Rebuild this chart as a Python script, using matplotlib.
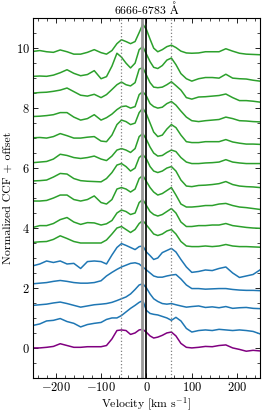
import matplotlib
matplotlib.use("Agg")
import matplotlib.pyplot as plt
from matplotlib.ticker import AutoMinorLocator, MultipleLocator

plt.rcParams['font.family'] = ['cmr10', 'DejaVu Serif']
plt.rcParams['mathtext.fontset'] = 'cm'
plt.rcParams['axes.formatter.use_mathtext'] = True
plt.rcParams['font.size'] = 8.5

# velocity grid (km/s)
vel = [-250, -235, -220, -205, -190, -175, -160, -145, -130, -115, -100, -88, -76, -65,
       -55, -45, -35, -25, -16, -8, 0, 8, 16, 25, 35, 45, 55, 65, 76, 88, 100, 115,
       130, 145, 160, 175, 190, 205, 220, 235, 250]

# CCF values (before offset), bottom to top
ccf_00 = [0.0, 0.0, 0.02, 0.05, 0.14, 0.08, 0.02, 0.02, 0.04, 0.04, 0.04, 0.08, 0.3, 0.58,
          0.6, 0.58, 0.45, 0.5, 0.6, 0.62, 0.52, 0.4, 0.33, 0.36, 0.42, 0.5, 0.53, 0.4,
          0.15, 0.02, 0.0, 0.02, 0.05, 0.04, 0.08, 0.1, 0.0, -0.05, -0.11, -0.08, -0.1]
ccf_01 = [0.05, 0.1, 0.2, 0.22, 0.28, 0.18, 0.12, 0.0, 0.08, 0.12, 0.15, 0.25, 0.3, 0.3,
          0.38, 0.5, 0.62, 0.72, 0.82, 0.88, 0.55, 0.45, 0.42, 0.4, 0.35, 0.3, 0.22, 0.32,
          0.2, -0.05, -0.17, -0.12, -0.1, -0.12, -0.08, -0.1, -0.12, -0.1, -0.12, -0.15, -0.23]
ccf_02 = [0.02, 0.04, 0.06, 0.1, 0.13, 0.08, 0.02, -0.04, 0.0, 0.04, 0.06, 0.08, 0.12, 0.18,
          0.24, 0.3, 0.4, 0.55, 0.7, 0.74, 0.6, 0.4, 0.24, 0.15, 0.08, 0.06, 0.08, 0.04,
          0.0, -0.04, -0.02, 0.0, -0.05, -0.03, -0.06, -0.02, -0.08, -0.06, -0.05, -0.08, -0.09]
ccf_03 = [0.04, 0.06, 0.08, 0.12, 0.15, 0.12, 0.08, 0.06, 0.06, 0.08, 0.14, 0.3, 0.42, 0.52,
          0.6, 0.66, 0.72, 0.74, 0.7, 0.6, 0.5, 0.4, 0.3, 0.26, 0.26, 0.3, 0.33, 0.35,
          0.2, 0.0, -0.12, -0.12, -0.14, -0.13, -0.12, -0.12, -0.15, -0.17, -0.18, -0.18, -0.19]
ccf_04 = [-0.06, 0.0, 0.1, 0.05, 0.1, 0.0, 0.02, -0.15, 0.08, 0.1, 0.08, 0.0, 0.3, 0.55,
          0.68, 0.62, 0.55, 0.48, 0.58, 0.6, 0.4, 0.28, 0.15, 0.2, 0.38, 0.45, 0.52, 0.4,
          0.15, -0.1, -0.28, -0.25, -0.2, -0.22, -0.15, -0.1, -0.3, -0.45, -0.4, -0.35, -0.2]
ccf_05 = [0.02, 0.04, 0.05, 0.12, 0.24, 0.15, 0.05, 0.0, 0.0, 0.0, 0.0, 0.1, 0.3, 0.5,
          0.55, 0.45, 0.35, 0.45, 0.65, 0.75, 0.6, 0.45, 0.3, 0.25, 0.3, 0.4, 0.45, 0.3,
          0.05, -0.1, -0.12, -0.12, -0.1, -0.12, -0.1, -0.05, -0.1, -0.12, -0.12, -0.13, -0.14]
ccf_06 = [-0.18, -0.12, -0.12, -0.05, 0.08, 0.15, 0.0, -0.08, -0.02, -0.03, -0.1, -0.06, 0.05, 0.3,
          0.4, 0.35, 0.25, 0.3, 0.65, 0.75, 0.55, 0.35, 0.25, 0.2, 0.25, 0.35, 0.45, 0.3,
          0.0, -0.15, -0.15, -0.12, -0.12, -0.1, -0.1, -0.05, -0.12, -0.15, -0.18, -0.2, -0.21]
ccf_07 = [0.0, 0.0, 0.02, 0.1, 0.2, 0.2, 0.05, 0.0, 0.05, 0.17, -0.05, -0.1, 0.05, 0.4,
          0.45, 0.4, 0.3, 0.4, 0.75, 0.85, 0.65, 0.45, 0.3, 0.2, 0.25, 0.35, 0.45, 0.2,
          -0.1, -0.2, -0.2, -0.18, -0.15, -0.15, -0.1, -0.08, -0.15, -0.2, -0.22, -0.25, -0.28]
ccf_08 = [-0.03, -0.02, 0.0, 0.1, 0.22, 0.2, 0.05, -0.02, -0.04, -0.05, -0.06, 0.05, 0.25, 0.5,
          0.55, 0.45, 0.3, 0.4, 0.75, 0.85, 0.7, 0.45, 0.3, 0.25, 0.3, 0.4, 0.45, 0.3,
          0.0, -0.2, -0.22, -0.18, -0.17, -0.15, -0.12, -0.05, -0.15, -0.2, -0.22, -0.23, -0.25]
ccf_09 = [-0.12, -0.1, -0.08, 0.0, 0.16, 0.12, 0.05, 0.02, 0.05, 0.1, 0.0, -0.05, 0.1, 0.3,
          0.35, 0.3, 0.22, 0.35, 0.75, 0.85, 0.65, 0.4, 0.2, 0.1, 0.12, 0.22, 0.3, 0.25,
          0.05, -0.1, -0.15, -0.15, -0.13, -0.12, -0.1, -0.02, -0.1, -0.13, -0.15, -0.15, -0.15]
ccf_10 = [0.01, 0.02, 0.0, 0.05, 0.15, 0.08, 0.0, 0.0, 0.03, 0.05, -0.1, -0.12, 0.1, 0.45,
          0.6, 0.55, 0.45, 0.5, 0.85, 1.0, 0.8, 0.5, 0.2, 0.05, 0.1, 0.3, 0.45, 0.35,
          0.1, -0.12, -0.15, -0.15, -0.12, -0.12, -0.12, -0.05, -0.13, -0.17, -0.2, -0.2, -0.21]
ccf_11 = [0.02, 0.03, 0.05, 0.08, 0.15, 0.15, 0.0, -0.1, -0.05, 0.08, -0.1, -0.02, 0.1, 0.25,
          0.35, 0.37, 0.3, 0.35, 0.75, 0.85, 0.7, 0.45, 0.35, 0.3, 0.33, 0.45, 0.52, 0.4,
          0.2, 0.0, -0.12, -0.15, -0.12, -0.1, -0.08, 0.0, -0.05, -0.12, -0.13, -0.15, -0.16]
ccf_12 = [0.1, 0.12, 0.13, 0.16, 0.2, 0.27, 0.15, 0.03, 0.0, 0.06, -0.05, 0.05, 0.22, 0.38,
          0.47, 0.38, 0.34, 0.45, 0.9, 0.95, 0.7, 0.45, 0.3, 0.28, 0.3, 0.38, 0.48, 0.35,
          0.2, -0.05, -0.1, -0.03, -0.02, 0.0, 0.02, 0.07, -0.05, -0.15, -0.15, -0.17, -0.2]
ccf_13 = [-0.04, -0.03, -0.04, 0.0, 0.08, 0.18, 0.06, -0.02, 0.02, 0.15, -0.12, -0.05, 0.3, 0.73,
          0.6, 0.4, 0.24, 0.4, 0.85, 0.95, 0.7, 0.45, 0.26, 0.22, 0.32, 0.5, 0.57, 0.35,
          0.05, -0.12, -0.2, -0.12, -0.08, -0.08, -0.1, 0.03, -0.1, -0.12, -0.13, -0.17, -0.2]
ccf_14 = [0.09, 0.12, 0.08, 0.06, 0.14, 0.08, 0.0, 0.0, 0.06, 0.15, 0.05, 0.0, 0.12, 0.35,
          0.48, 0.42, 0.35, 0.42, 0.72, 1.0, 0.82, 0.5, 0.2, 0.08, 0.15, 0.25, 0.3, 0.22,
          0.1, 0.04, 0.03, 0.04, 0.08, 0.08, 0.08, 0.18, 0.1, 0.03, 0.0, -0.01, -0.02]

curves = [ccf_00, ccf_01, ccf_02, ccf_03, ccf_04, ccf_05, ccf_06, ccf_07,
          ccf_08, ccf_09, ccf_10, ccf_11, ccf_12, ccf_13, ccf_14]
offset_step = 0.7
colors = ['purple'] + ['#1f77b4'] * 4 + ['#2ca02c'] * 10

fig = plt.figure(figsize=(2.66, 4.13), dpi=100)
ax = fig.add_axes([0.124, 0.085, 0.853, 0.871])

for i, c in enumerate(curves):
    ax.plot(vel, [y + offset_step * i for y in c], color=colors[i], lw=1.1)

# reference lines
ax.axvline(0, color='k', lw=1.2)
ax.axvline(-9, color='#999999', lw=2.0)
ax.axvline(-55, color='gray', lw=0.9, ls=':')
ax.axvline(55, color='gray', lw=0.9, ls=':')

ax.set_xlim(-250, 250)
ax.set_ylim(-1, 11)
ax.xaxis.set_major_locator(MultipleLocator(100))
ax.yaxis.set_major_locator(MultipleLocator(2))
ax.xaxis.set_minor_locator(AutoMinorLocator())
ax.yaxis.set_minor_locator(AutoMinorLocator(4))
ax.tick_params(which='both', direction='in', top=True, right=True, labelsize=9, pad=2.5)
ax.tick_params(which='major', length=3.5, width=0.6)
ax.tick_params(which='minor', length=2, width=0.5)
for s in ax.spines.values():
    s.set_linewidth(0.8)

ax.set_title(r'6666-6783 $\mathrm{\AA}$', fontsize=8.5, pad=3)
ax.set_xlabel(r'Velocity [km s$^{-1}$]', labelpad=1)
ax.set_ylabel('Normalized CCF + offset', labelpad=2)

fig.savefig('out.png', dpi=100)
